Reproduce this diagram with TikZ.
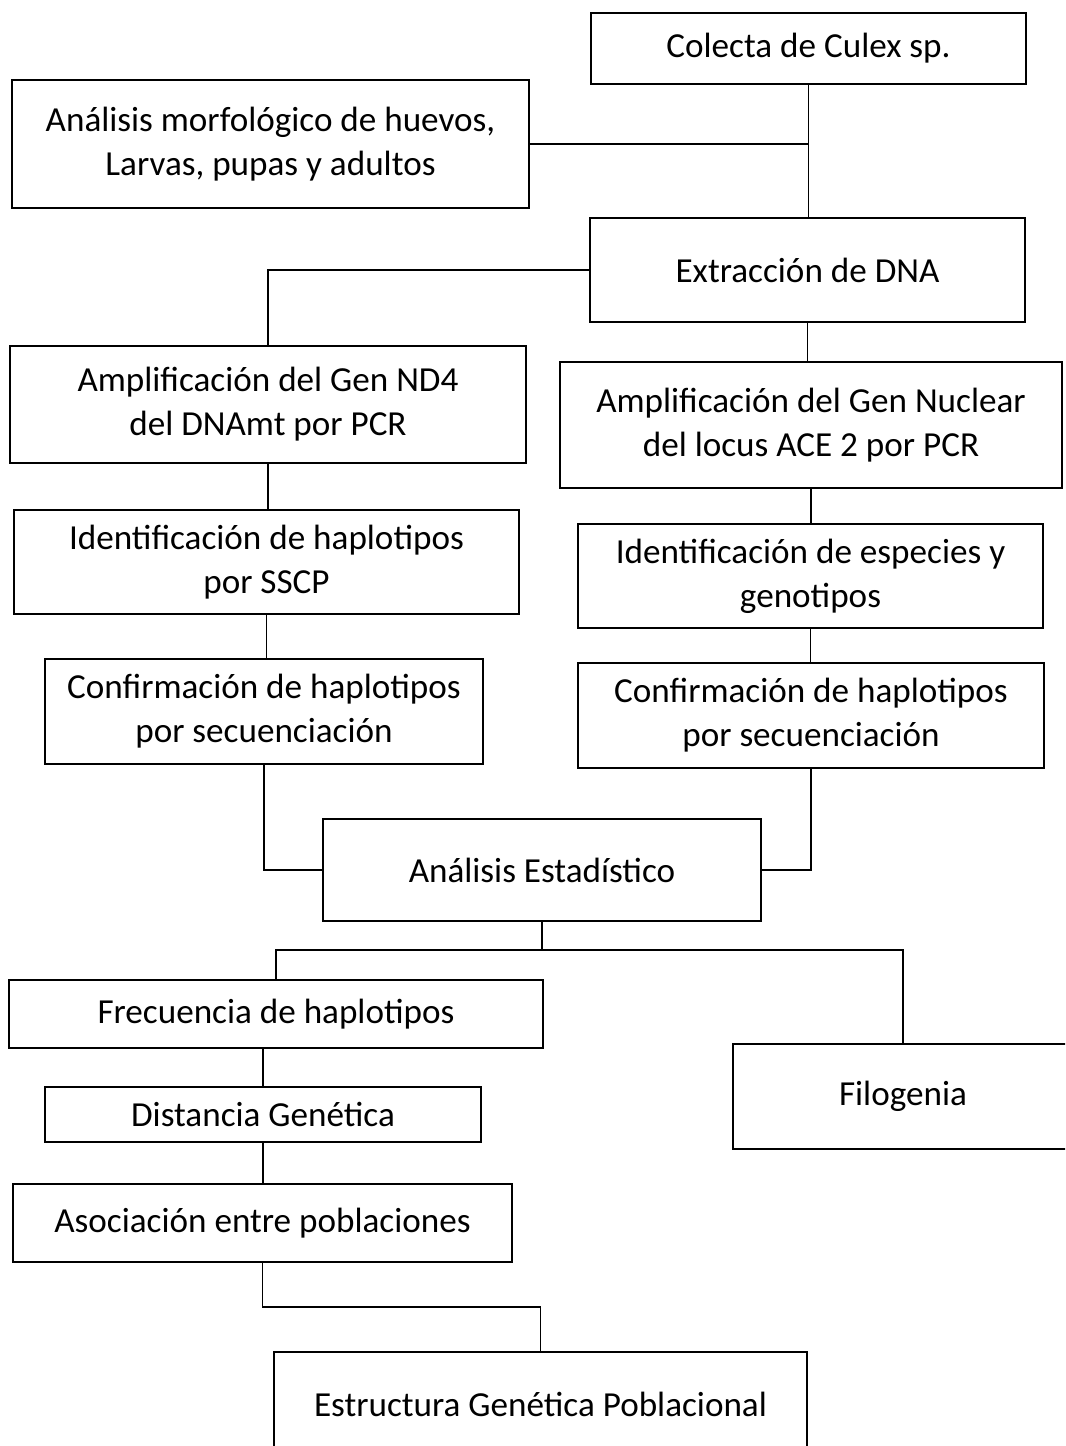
\documentclass[tikz,border=0pt]{standalone}
\usepackage{fontspec}
\setmainfont{Carlito}
\usepackage{tikz}
\usetikzlibrary{calc}

\begin{document}
\begin{tikzpicture}[x=0.02cm,y=-0.02cm,
  box/.style={draw,line width=0.9pt,rectangle,align=center,
    font=\fontsize{20}{25}\selectfont,inner sep=0pt},
  link/.style={line width=0.9pt}]
\clip (0,0) rectangle (1065,1446);
\fill[white] (0,0) rectangle (1065,1446);

% cajas
\node[box,minimum width=8.7cm,minimum height=1.42cm] (colecta) at (808.5,48.5) {Colecta de Culex sp.};
\node[box,minimum width=10.34cm,minimum height=2.56cm] (morfo) at (270.5,144) {Análisis morfológico de huevos,\\Larvas, pupas y adultos};
\node[box,minimum width=8.7cm,minimum height=2.08cm] (extrac) at (807.5,270) {Extracción de DNA};
\node[box,minimum width=10.32cm,minimum height=2.34cm] (nd4) at (268,404.5) {Amplificación del Gen ND4\\del DNAmt por PCR};
\node[box,minimum width=10.04cm,minimum height=2.52cm] (ace) at (811,425) {Amplificación del Gen Nuclear\\del locus ACE 2 por PCR};
\node[box,minimum width=10.1cm,minimum height=2.08cm] (sscp) at (266.5,562) {Identificación de haplotipos\\por SSCP};
\node[box,minimum width=9.3cm,minimum height=2.08cm] (especies) at (810.5,576) {Identificación de especies y\\genotipos};
\node[box,minimum width=8.76cm,minimum height=2.1cm] (confl) at (264,711.5) {Confirmación de haplotipos\\por secuenciación};
\node[box,minimum width=9.32cm,minimum height=2.1cm] (confr) at (811,715.5) {Confirmación de haplotipos\\por secuenciación};
\node[box,minimum width=8.76cm,minimum height=2.04cm] (estad) at (542,870) {Análisis Estadístico};
\node[box,minimum width=10.68cm,minimum height=1.36cm] (frec) at (276,1014) {Frecuencia de haplotipos};
\node[box,minimum width=6.8cm,minimum height=2.1cm] (filo) at (903,1096.5) {Filogenia};
\node[box,minimum width=8.72cm,minimum height=1.1cm] (dist) at (263,1114.5) {Distancia Genética};
\node[box,minimum width=9.98cm,minimum height=1.56cm] (asoc) at (262.5,1223) {Asociación entre poblaciones};
\node[box,minimum width=10.66cm,minimum height=2.08cm] (estruct) at (540.5,1404) {Estructura Genética Poblacional};

% conectores
\coordinate (junc) at (542,950);
\coordinate (bend) at (400,1307);
\draw[link] (colecta.south) -- (colecta.south |- extrac.north);
\draw[link] (morfo.east) -- (morfo.east -| colecta.south);
\draw[link] (extrac.west) -| (nd4.north);
\draw[link] (extrac.south) -- (extrac.south |- ace.north);
\draw[link] (nd4.south) -- (nd4.south |- sscp.north);
\draw[link] (ace.south) -- (ace.south |- especies.north);
\draw[link] (sscp.south) -- (sscp.south |- confl.north);
\draw[link] (especies.south) -- (especies.south |- confr.north);
\draw[link] (confl.south) |- (estad.west);
\draw[link] (confr.south) |- (estad.east);
\draw[link] (estad.south) -- (junc);
\draw[link] (frec.north) |- (filo.north |- junc) -- (filo.north);
\draw[link] (frec.south -| dist.north) -- (dist.north);
\draw[link] (dist.south) -- (dist.south |- asoc.north);
\draw[link] (asoc.south) |- (bend) -| (estruct.north);
\end{tikzpicture}
\end{document}
